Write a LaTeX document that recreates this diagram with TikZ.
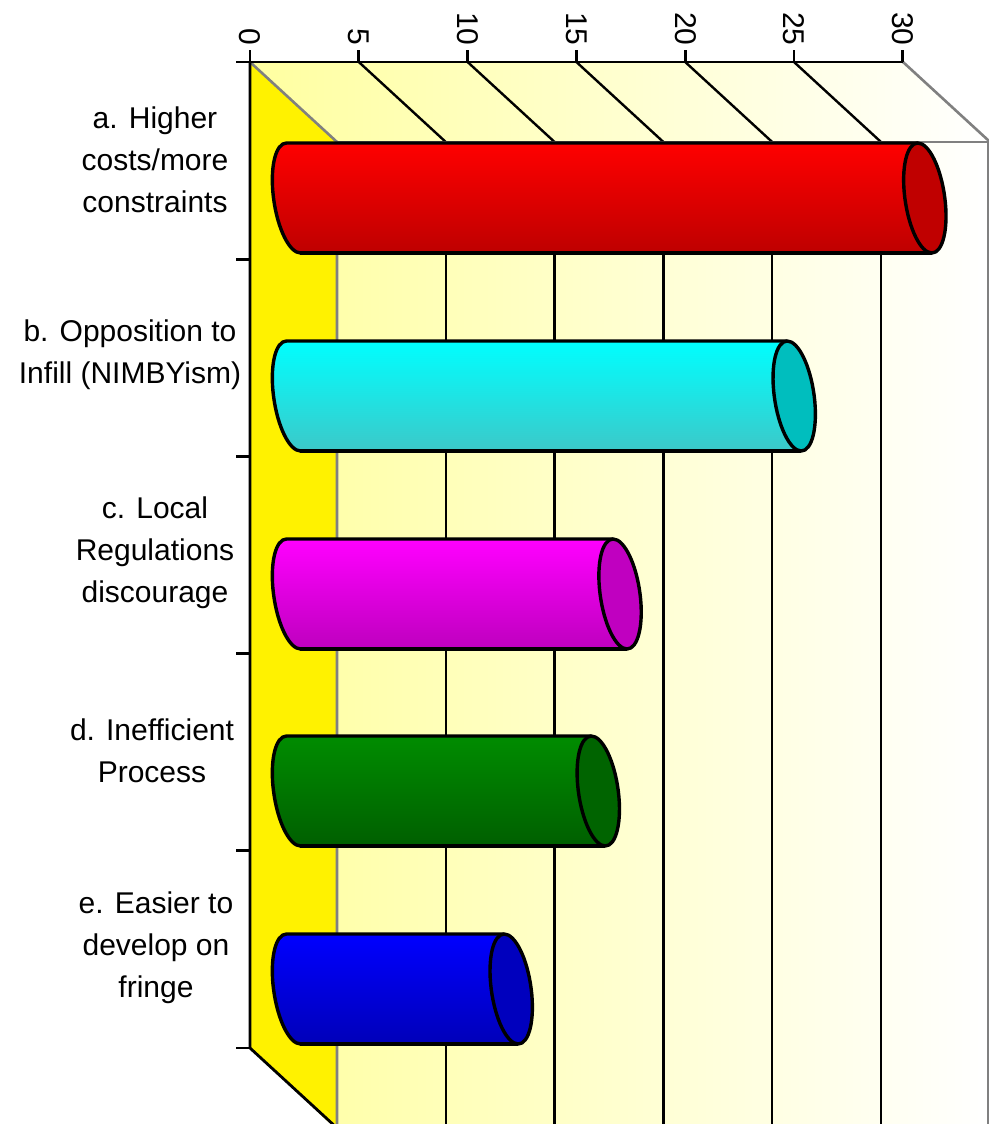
\documentclass[tikz,border=0pt]{standalone}
\usepackage{fontspec}
\setmainfont{Liberation Sans}
\usepackage{xcolor}
\definecolor{wallpale}{RGB}{255,255,160}
\definecolor{edgegray}{RGB}{128,128,128}
\definecolor{redtop}{RGB}{255,0,0}
\definecolor{redbot}{RGB}{190,0,0}
\definecolor{redcap}{RGB}{192,0,0}
\definecolor{cyantop}{RGB}{0,255,255}
\definecolor{cyanbot}{RGB}{60,200,200}
\definecolor{cyancap}{RGB}{0,190,190}
\definecolor{magtop}{RGB}{255,0,255}
\definecolor{magbot}{RGB}{190,0,190}
\definecolor{magcap}{RGB}{192,0,192}
\definecolor{greentop}{RGB}{0,140,0}
\definecolor{greenbot}{RGB}{0,95,0}
\definecolor{greencap}{RGB}{0,100,0}
\definecolor{bluetop}{RGB}{0,0,255}
\definecolor{bluebot}{RGB}{0,0,185}
\definecolor{bluecap}{RGB}{0,0,190}

\begin{document}
\begin{tikzpicture}[x=0.5pt,y=-0.5pt,semithick]
        \tikzstyle{catlabel}=[align=center, inner sep=0pt, font=\fontsize{15}{21}\selectfont]
        \tikzstyle{ticklabel}=[rotate=-90, anchor=east, inner sep=0pt, font=\fontsize{15}{18}\selectfont]
        \tikzstyle{gridline}=[black, line width=1.2pt]
        \tikzstyle{edgeline}=[edgegray, line width=1.3pt]
        \tikzstyle{axisline}=[black, line width=1.4pt]
        \tikzstyle{barline}=[black, line width=1.7pt, line join=round]
        \useasboundingbox (0,0) rectangle (989,1124);
        \clip (0,0) rectangle (989,1124);

        \shade[left color=wallpale, right color=white] (250,62) -- (903,62) -- (989,141) -- (989,1124) -- (337,1124) -- (337,142) -- cycle;
        \fill[yellow] (250,62) -- (337,142) -- (337,1130) -- (250,1048) -- cycle;

        \foreach \k in {1,...,5} {
          \draw[gridline] ({337+108.8*\k},142) -- ({337+108.8*\k},1124);
          \draw[gridline] ({250+108.8*\k},62) -- ({337+108.8*\k},142);
        }
        \draw[edgeline] (250,62) -- (337,142) -- (337,1124);
        \draw[edgeline] (337,142) -- (989,142);
        \draw[edgeline] (903,62) -- (989,141);
        \draw[edgeline] (988,141) -- (988,1124);

        \draw[axisline] (236,62) -- (903,62);
        \draw[axisline] (250,62) -- (250,1048) -- (337,1128);
        \foreach \k in {0,...,6}
          \draw[axisline] ({250+108.8*\k},62) -- ({250+108.8*\k},50);
        \foreach \k in {1,...,5}
          \draw[axisline] (236,{62+197.2*\k}) -- (250,{62+197.2*\k});
        \foreach \v in {0,5,...,30}
          \node[ticklabel] (tick\v) at ({250+21.77*\v},46) {\v};

        \foreach \val/\yc/\ctop/\cbot/\ccap in {29/198/redtop/redbot/redcap, 23/396/cyantop/cyanbot/cyancap, 15/594/magtop/magbot/magcap, 14/791/greentop/greenbot/greencap, 10/989/bluetop/bluebot/bluecap} {
          \begin{scope}[shift={(0,\yc)}, xslant=-0.127]
            \pgfmathsetmacro{\xr}{293.5+21.77*\val}
            \shade[top color=\ctop, bottom color=\cbot] (293.5,0) ellipse (20 and 55);
            \shade[top color=\ctop, bottom color=\cbot] (293.5,-55) rectangle (\xr,55);
            \draw[barline] (293.5,55) arc[start angle=90, end angle=270, x radius=20, y radius=55] -- (\xr,-55);
            \draw[barline] (293.5,55) -- (\xr,55);
            \filldraw[barline, fill=\ccap] (\xr,0) ellipse (20 and 55);
          \end{scope}
        }

        \node[catlabel] (labA) at (155,160) {a. Higher\\costs/more\\constraints};
        \node[catlabel] (labB) at (130,355) {b. Opposition to\\Infill (NIMBYism)};
        \node[catlabel] (labC) at (155,553) {c. Local\\Regulations\\discourage};
        \node[catlabel] (labD) at (152,751) {d. Inefficient\\Process};
        \node[catlabel] (labE) at (156,948) {e. Easier to\\develop on\\fringe};
      \end{tikzpicture}
\end{document}
